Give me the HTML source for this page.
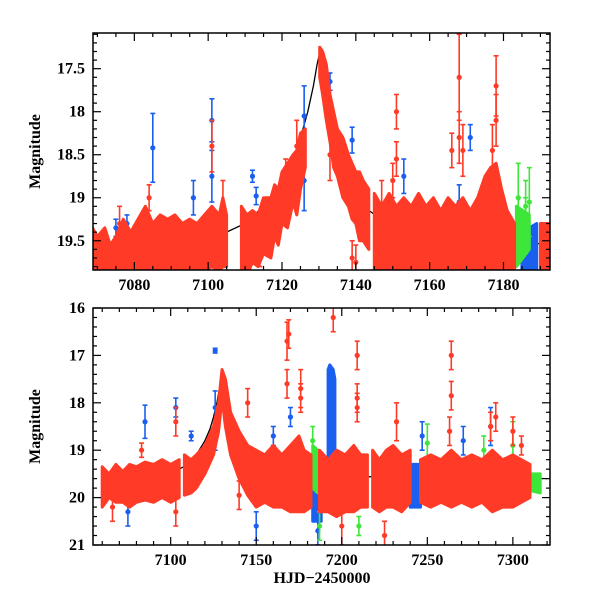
<!DOCTYPE html>
<html><head><meta charset="utf-8"><style>
body{margin:0;background:#fff}
svg{display:block}
text{font-family:"Liberation Serif",serif;font-size:16px;fill:#000;font-weight:bold}
</style></head><body>
<svg id="c" width="600" height="600"></svg>
<script>
// ---------- DATA ----------
const topTicksX=[7080,7100,7120,7140,7160,7180];
const topTicksY=[17.5,18,18.5,19,19.5];
const botTicksX=[7100,7150,7200,7250,7300];
const botTicksY=[16,17,18,19,20,21];
const modelT=[7068,7075,7085,7095,7100,7105,7110,7115,7120,7123,7125,7127,7128.5,7129.5,7130.3,7131,7132,7133,7135,7138,7142,7150,7170,7200,7250,7320];
const modelM=[19.58,19.57,19.55,19.5,19.46,19.4,19.3,19.1,18.8,18.55,18.3,18.0,17.7,17.45,17.3,17.35,17.65,18.0,18.4,18.8,19.1,19.35,19.5,19.55,19.58,19.6];
// dense-scatter envelopes: [segment, HJD, bright edge, faint edge]
const topRedBand=[
[0,7068,19.3,19.9],[0,7070,19.45,19.9],[0,7072,19.35,19.9],[0,7073.5,19.55,19.9],[0,7075,19.45,19.9],[0,7077,19.25,19.9],[0,7079,19.4,19.9],[0,7081,19.25,19.9],[0,7083,19.1,19.9],[0,7085,19.3,19.9],[0,7087,19.2,19.9],[0,7089,19.25,19.85],[0,7091,19.2,19.85],[0,7093,19.3,19.85],[0,7095,19.25,19.85],[0,7097,19.3,19.85],[0,7099,19.2,19.85],[0,7101,19.1,19.8],[0,7103,19.2,19.85],[0,7104,19.0,19.8],[0,7105,19.2,19.8],
[1,7109,19.1,19.85],[1,7110.5,19.2,19.9],[1,7112,19.15,19.75],[1,7113.5,19.2,19.8],[1,7115,19.0,19.65],[1,7117,19.0,19.7],[1,7118,18.85,19.45],[1,7119,18.9,19.55],[1,7120,18.7,19.3],[1,7121.5,18.6,19.35],[1,7123,18.5,19.05],[1,7124,18.45,19.2],[1,7125,18.25,18.9],[1,7126.3,18.2,18.65],
[2,7130.2,17.25,17.6],[2,7131,17.3,17.8],[2,7132,17.45,18.1],[2,7133,17.8,18.35],[2,7134,18.0,18.65],[2,7135,18.2,18.75],[2,7136.5,18.3,19.0],[2,7138,18.5,19.1],[2,7139,18.6,19.25],[2,7140,18.7,19.3],[2,7141,18.7,19.5],[2,7142,18.8,19.5],[2,7143.5,18.9,19.6],
[3,7145,18.95,19.9],[3,7147,19.1,19.9],[3,7149,18.95,19.9],[3,7151,19.1,19.9],[3,7153,19.0,19.9],[3,7155,19.1,19.9],[3,7157,18.95,19.9],[3,7159,19.1,19.9],[3,7161,19.0,19.9],[3,7163,19.15,19.9],[3,7165,19.0,19.9],[3,7167,19.1,19.9],[3,7169,19.0,19.9],[3,7171,19.15,19.9],[3,7173,19.0,19.9],[3,7175,18.75,19.9],[3,7176.5,18.65,19.9],[3,7178,18.6,19.9],[3,7179.5,18.9,19.9],[3,7181,19.15,19.9],[3,7183,19.3,19.9],
[4,7190,19.3,19.9],[4,7193,19.3,19.9]];
const topBlueBand=[[0,7185,19.4,19.9],[0,7189,19.3,19.9]];
const topGreenBand=[[0,7183.5,19.1,19.8],[0,7187,19.2,19.6]];
const botRedBand=[
[0,7060,19.35,20.2],[0,7064,19.5,20.0],[0,7068,19.3,20.1],[0,7072,19.45,20.1],[0,7076,19.3,20.2],[0,7080,19.35,20.1],[0,7085,19.25,20.05],[0,7090,19.3,20.1],[0,7095,19.2,20.0],[0,7100,19.3,20.1],[0,7105,19.2,20.0],
[1,7108,19.1,19.95],[1,7112,19.2,19.9],[1,7115,19.1,19.8],[1,7120,18.9,19.5],[1,7125,18.5,19.1],[1,7128,18.0,18.6],[1,7130,17.3,17.9],[1,7132,17.5,18.5],[1,7135,18.2,19.1],[1,7140,18.6,19.6],[1,7145,18.9,19.95],[1,7150,19.0,20.2],[1,7155,19.1,20.1],[1,7160,18.9,20.2],[1,7165,19.1,20.2],[1,7170,18.9,20.3],[1,7175,18.7,20.3],[1,7178,19.0,20.3],[1,7182,19.1,20.2],
[2,7187,19.0,20.3],[2,7192,19.2,20.3],[2,7197,19.0,20.4],[2,7202,19.1,20.3],[2,7207,18.9,20.3],[2,7211,19.1,20.2],[2,7215,19.1,20.2],
[3,7218,19.0,20.2],[3,7222,19.2,20.3],[3,7226,19.0,20.2],[3,7230,18.9,20.2],[3,7235,19.1,20.3],[3,7240,19.0,20.1],
[4,7246,19.2,20.1],[4,7252,19.1,20.2],[4,7258,19.2,20.1],[4,7264,19.0,20.2],[4,7270,19.2,20.1],[4,7276,19.1,20.2],[4,7282,19.2,20.1],[4,7288,19.0,20.3],[4,7294,19.2,20.2],[4,7300,19.1,20.2],[4,7305,19.2,20.1],[4,7310,19.3,20.0]];
const botBlueBand=[[0,7183,19.2,20.5],[0,7188,19.2,20.5],[1,7192,17.3,19.6],[1,7193,17.2,19.7],[1,7195,17.3,19.6],[1,7196,17.5,19.6],[2,7240,19.3,20.2],[2,7246,19.3,20.2]];
const botGreenBand=[[0,7183,18.9,19.8],[0,7186,19.0,19.9],[1,7310,19.5,19.85],[1,7316,19.5,19.9]];
// individual points: [HJD, mag, error]
const topBlue=[[7075,19.35,0.1],[7085,18.42,0.4],[7096,19.0,0.2],[7101,18.1,0.25],[7101,18.75,0.3],[7112,18.75,0.07],[7113,18.98,0.1],[7126,18.05,0.35],[7126,18.8,0.35],[7139,18.33,0.15],[7153,18.75,0.2],[7171,18.3,0.15],[7168,19.05,0.2],[7150,19.5,0.3],[7171,19.7,0.3],[7133,17.65,0.1],[7078,19.3,0.1],[7149,19.3,0.2]];
const topRed=[[7101,18.4,0.3],[7104,19.1,0.3],[7084,19.0,0.15],[7151,18.0,0.2],[7151,18.55,0.2],[7168,17.6,0.5],[7168,18.3,0.3],[7169,18.45,0.3],[7178,17.7,0.35],[7178,18.1,0.3],[7177,18.45,0.3],[7133,18.5,0.3],[7140,19.75,0.2],[7166,18.45,0.2],[7150,18.8,0.2],[7147,19.1,0.3],[7121,18.85,0.3],[7124,18.4,0.3],[7076,19.3,0.2],[7139,19.7,0.2],[7114,19.5,0.3]];
const topGreen=[[7184,19.0,0.4],[7186,19.1,0.3],[7187,19.05,0.4],[7186,19.3,0.3]];
const botBlue=[[7085,18.4,0.35],[7103,18.1,0.2],[7126,16.9,0.05],[7126,18.1,0.35],[7126,18.8,0.2],[7170,18.3,0.2],[7160,18.7,0.2],[7247,18.7,0.3],[7271,18.8,0.3],[7287,18.5,0.4],[7075,20.3,0.3],[7150,20.6,0.3],[7186,20.7,0.3],[7112,18.7,0.1]];
const botRed=[[7168,16.7,0.4],[7169,16.55,0.3],[7168,17.6,0.3],[7176,17.7,0.4],[7176,17.9,0.3],[7195,16.2,0.3],[7209,17.0,0.3],[7209,17.9,0.3],[7209,18.1,0.3],[7264,17.0,0.3],[7264,17.85,0.3],[7263,18.6,0.3],[7290,18.3,0.3],[7287,18.5,0.3],[7145,18.0,0.3],[7103,18.4,0.3],[7066,20.2,0.3],[7140,19.95,0.3],[7232,18.4,0.4],[7300,18.6,0.3],[7305,18.9,0.2],[7200,20.6,0.4],[7225,20.8,0.3],[7103,20.3,0.3],[7083,19.0,0.15]];
const botGreen=[[7183,18.8,0.3],[7250,18.85,0.4],[7300,18.9,0.5],[7283,19.0,0.3],[7187,20.6,0.3],[7210,20.6,0.2]];

// ---------- DRAW ----------
const NS='http://www.w3.org/2000/svg';
const svg=document.getElementById('c');
const RED='#ff3a26',BLUE='#1a5ff0',GREEN='#3ee63a';
function mk(tag,attrs,parent){const e=document.createElementNS(NS,tag);for(const k in attrs)e.setAttribute(k,attrs[k]);(parent||svg).appendChild(e);return e;}

function panel(cfg){
  const L=93,R=550,T=cfg.top,B=cfg.bottom;
  const sx=t=>L+(t-cfg.x0)/(cfg.x1-cfg.x0)*(R-L);
  const sy=m=>T+(m-cfg.y0)/(cfg.y1-cfg.y0)*(B-T);
  const g=mk('g',{});
  
  
  const cid='clip'+cfg.name;
  const cp=mk('clipPath',{id:cid},g);mk('rect',{x:L,y:T,width:R-L,height:B-T},cp);
  const pg=mk('g',{'clip-path':'url(#'+cid+')'},g);
  let d='';modelT.forEach((t,i)=>{d+=(i?'L':'M')+sx(t).toFixed(1)+','+sy(modelM[i]).toFixed(1);});
  const ml=mk('path',{d:d,fill:'none',stroke:'#000','stroke-width':1.3},pg);
  
  
  function bands(arr,col,nm){
    const segs={};arr.forEach(r=>{(segs[r[0]]=segs[r[0]]||[]).push(r);});
    Object.keys(segs).forEach(k=>{
      const s=segs[k];let p='';
      s.forEach((r,i)=>{p+=(i?'L':'M')+sx(r[1]).toFixed(1)+','+sy(r[2]).toFixed(1);});
      for(let i=s.length-1;i>=0;i--)p+='L'+sx(s[i][1]).toFixed(1)+','+sy(s[i][3]).toFixed(1);
      const e=mk('path',{d:p+'Z',fill:col,stroke:col,'stroke-width':3,'stroke-linejoin':'round'},pg);
      
      
    });
  }
  function pts(arr,col,nm){
    arr.forEach(r=>{
      const x=sx(r[0]),y=sy(r[1]),y1=sy(r[1]-r[2]),y2=sy(r[1]+r[2]);
      const gg=mk('g',{stroke:col,'stroke-width':1.6},pg);
      
      
      mk('line',{x1:x,x2:x,y1:y1,y2:y2},gg);
      mk('line',{x1:x-2.5,x2:x+2.5,y1:y1,y2:y1},gg);
      mk('line',{x1:x-2.5,x2:x+2.5,y1:y2,y2:y2},gg);
      mk('circle',{cx:x,cy:y,r:2.6,fill:col,stroke:'none'},gg);
    });
  }
  bands(cfg.blueBand,BLUE,'blue-scatter');
  bands(cfg.greenBand,GREEN,'green-scatter');
  pts(cfg.blue,BLUE,'blue-point');
  pts(cfg.green,GREEN,'green-point');
  bands(cfg.redBand,RED,'red-scatter');
  pts(cfg.red,RED,'red-point');
  mk('rect',{x:L,y:T,width:R-L,height:B-T,fill:'none',stroke:'#000','stroke-width':1.5},g);
  const tk=mk('g',{stroke:'#000','stroke-width':1.2},g);
  for(let v=Math.ceil(cfg.x0/cfg.xm)*cfg.xm;v<=cfg.x1;v+=cfg.xm){
    const maj=Math.abs(v/cfg.xM-Math.round(v/cfg.xM))<1e-6,len=maj?8:4,x=sx(v);
    mk('line',{x1:x,x2:x,y1:B,y2:B-len},tk);mk('line',{x1:x,x2:x,y1:T,y2:T+len},tk);
  }
  for(let i=0;;i++){const v=+(Math.ceil(cfg.y0/cfg.ym-1e-9)*cfg.ym+i*cfg.ym).toFixed(4);if(v>cfg.y1+1e-9)break;
    const maj=Math.abs(v/cfg.yM-Math.round(v/cfg.yM))<1e-6,len=maj?8:4,y=sy(v);
    mk('line',{x1:L,x2:L+len,y1:y,y2:y},tk);mk('line',{x1:R,x2:R-len,y1:y,y2:y},tk);
  }
  cfg.xt.forEach(v=>{const t=mk('text',{x:sx(v),y:B+20,'text-anchor':'middle'},g);t.textContent=v;
    
    });
  cfg.yt.forEach(v=>{const t=mk('text',{x:L-8,y:sy(v)+5,'text-anchor':'end'},g);t.textContent=v;
    
    });
  const yl=mk('text',{x:0,y:0,'text-anchor':'middle',transform:'translate(40,'+((T+B)/2)+') rotate(-90)'},g);
  yl.textContent='Magnitude';
  
  
}
panel({name:'top-panel',top:33,bottom:270,x0:7068.8,x1:7192.6,y0:17.085,y1:19.84,xm:5,xM:20,ym:0.1,yM:0.5,xt:topTicksX,yt:topTicksY,
  redBand:topRedBand,blueBand:topBlueBand,greenBand:topGreenBand,red:topRed,blue:topBlue,green:topGreen});
panel({name:'bottom-panel',top:308,bottom:545,x0:7054.6,x1:7321.7,y0:16,y1:21,xm:10,xM:50,ym:0.2,yM:1,xt:botTicksX,yt:botTicksY,
  redBand:botRedBand,blueBand:botBlueBand,greenBand:botGreenBand,red:botRed,blue:botBlue,green:botGreen});
const xl=mk('text',{x:322,y:583,'text-anchor':'middle'});
xl.textContent='HJD\u22122450000';


</script>
</body></html>
